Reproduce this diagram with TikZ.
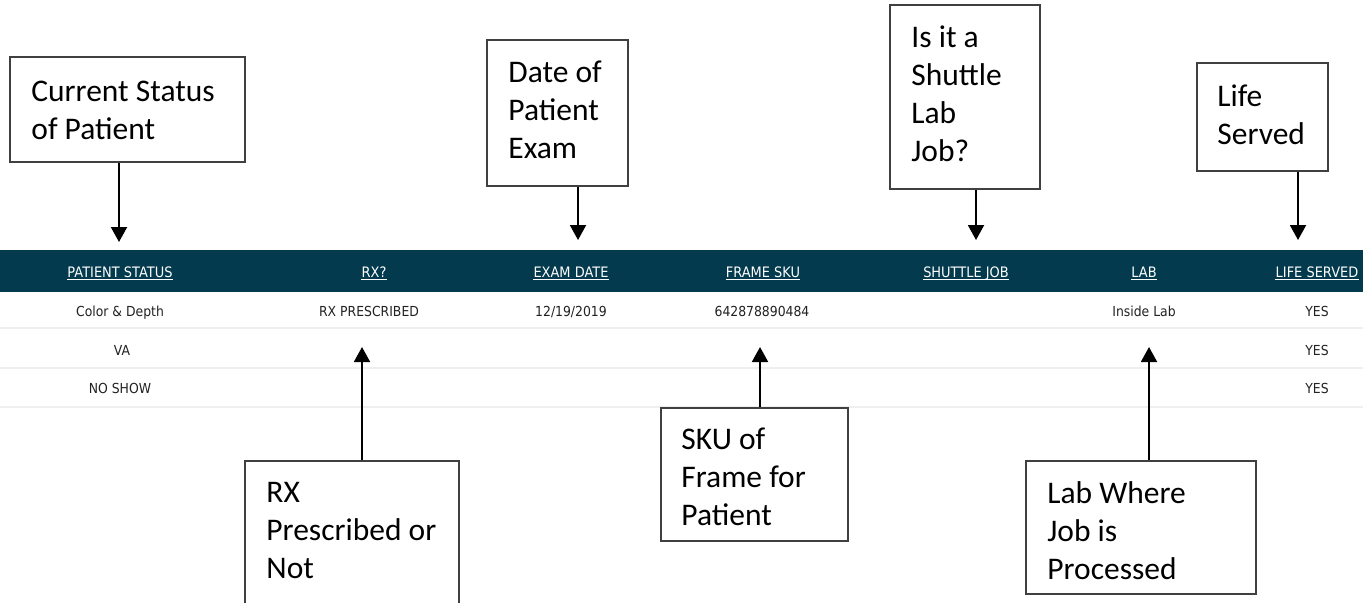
\documentclass[tikz,border=0pt]{standalone}
\usepackage{fontspec}
\usetikzlibrary{arrows.meta,fit}
\newfontfamily\boxfont{Carlito}
\newfontfamily\tabfont[FakeStretch=0.9]{DejaVu Sans}
\definecolor{barcol}{HTML}{033A4D}
\definecolor{rowline}{HTML}{EFEFEF}
\definecolor{rowtext}{HTML}{222222}
\definecolor{boxline}{HTML}{404040}
\begin{document}
\begin{tikzpicture}[x=0.5pt,y=-0.5pt,
  box/.style={draw=boxline, line width=0.6pt, inner sep=0pt},
  boxtxt/.style={inner sep=0pt, anchor=base west, font=\boxfont\fontsize{15.75}{19}\selectfont},
  head/.style={inner sep=0pt, anchor=base, text=white, font=\tabfont\fontsize{7.2}{8}\selectfont},
  cell/.style={inner sep=0pt, anchor=base, text=rowtext, font=\tabfont\fontsize{6.9}{8}\selectfont},
  ul/.style={white, line width=0.5pt},
  arr/.style={line width=1pt, -{Triangle[width=8pt,length=7.5pt]}},
  sepline/.style={rowline, line width=1pt}]
\useasboundingbox (0,0) rectangle (1363,602);
\clip (0,0) rectangle (1363,602);
\fill[white] (0,0) rectangle (1363,602);

% header bar
\fill[barcol] (0,250) rectangle (1363,292);
\node[head] (h1) at (120,277) {PATIENT STATUS};
\node[head] (h2) at (374,277) {RX?};
\node[head] (h3) at (571,277) {EXAM DATE};
\node[head] (h4) at (763,277) {FRAME SKU};
\node[head] (h5) at (966,277) {SHUTTLE JOB};
\node[head] (h6) at (1144,277) {LAB};
\node[head] (h7) at (1317,277) {LIFE SERVED};
\foreach \h in {h1,h2,h3,h4,h5,h6,h7}
  \draw[ul] ([yshift=-1.3pt]\h.base west) -- ([yshift=-1.3pt]\h.base east);

% row separators
\draw[sepline] (0,328) -- (1363,328);
\draw[sepline] (0,368) -- (1363,368);
\draw[sepline] (0,407) -- (1363,407);

% rows
\node[cell] (r11) at (120,316) {Color \& Depth};
\node[cell] (r12) at (369,316) {RX PRESCRIBED};
\node[cell] (r13) at (571,316) {12/19/2019};
\node[cell] (r14) at (762,316) {642878890484};
\node[cell] (r16) at (1144,316) {Inside Lab};
\node[cell] (r17) at (1317,316) {YES};
\node[cell] (r21) at (122,355) {VA};
\node[cell] (r27) at (1317,355) {YES};
\node[cell] (r31) at (120,393) {NO SHOW};
\node[cell] (r37) at (1317,393) {YES};

% top boxes
\node[box, fit={(10,57) (245,162)}] (b1) {};
\node[boxtxt] (t1) at (31,101) {\vtop{\hbox{Current Status}\hbox{of Patient}}};
\node[box, fit={(487,40) (628,186)}] (b2) {};
\node[boxtxt] (t2) at (508,82) {\vtop{\hbox{Date of}\hbox{Patient}\hbox{Exam}}};
\node[box, fit={(890,5) (1040,189)}] (b3) {};
\node[boxtxt] (t3) at (911,47) {\vtop{\hbox{Is it a}\hbox{Shuttle}\hbox{Lab}\hbox{Job?}}};
\node[box, fit={(1197,63) (1328,171)}] (b4) {};
\node[boxtxt] (t4) at (1217,106) {\vtop{\hbox{Life}\hbox{Served}}};

% bottom boxes
\node[box, fit={(245,461) (459,640)}] (b5) {};
\node[boxtxt] (t5) at (266,502) {\vtop{\hbox{RX}\hbox{Prescribed or}\hbox{Not}}};
\node[box, fit={(661,408) (848,541)}] (b6) {};
\node[boxtxt] (t6) at (681,449) {\vtop{\hbox{SKU of}\hbox{Frame for}\hbox{Patient}}};
\node[box, fit={(1026,461) (1256,594)}] (b7) {};
\node[boxtxt] (t7) at (1047,503) {\vtop{\hbox{Lab Where}\hbox{Job is}\hbox{Processed}}};

% arrow tips
\coordinate (p1) at (119,242);
\coordinate (p2) at (578,240);
\coordinate (p3) at (976,240);
\coordinate (p4) at (1298,240);
\coordinate (p5) at (362,347);
\coordinate (p6) at (760,347);
\coordinate (p7) at (1149,347);

\draw[arr] (b1.south -| p1) -- (p1);
\draw[arr] (b2.south -| p2) -- (p2);
\draw[arr] (b3.south -| p3) -- (p3);
\draw[arr] (b4.south -| p4) -- (p4);
\draw[arr] (b5.north -| p5) -- (p5);
\draw[arr] (b6.north -| p6) -- (p6);
\draw[arr] (b7.north -| p7) -- (p7);
\end{tikzpicture}
\end{document}
